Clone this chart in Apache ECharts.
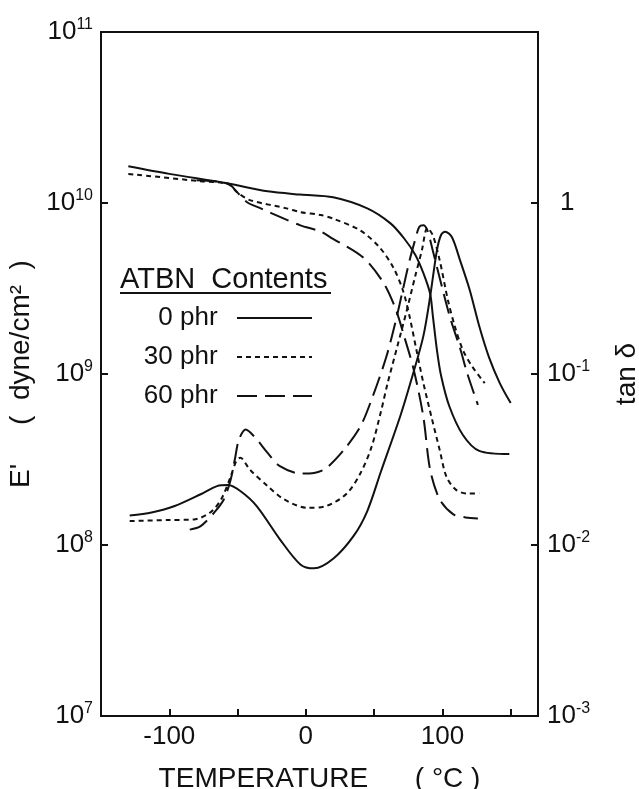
<!DOCTYPE html>
<html>
<head>
<meta charset="utf-8">
<script src="https://cdn.jsdelivr.net/npm/echarts@6/dist/echarts.min.js"></script>
<style>
  html, body { margin: 0; padding: 0; background: #fff; }
  #chart { width: 639px; height: 789px; }
</style>
</head>
<body>
<div id="chart"></div>
<script>
// 数据：温度 (°C) 与 E' (dyne/cm2)、tan δ
var seriesNames = ['0 phr', '30 phr', '60 phr'];

var tempE0 = [-130, -100, -57, -28, -4, 20, 45, 62, 72, 80, 86, 91, 93, 96, 99, 105, 115, 127, 149];
var modE0 = [1.64e10, 1.48e10, 1.30e10, 1.17e10, 1.12e10, 1.08e10, 9.3e9, 7.6e9, 6.2e9, 5.0e9, 3.9e9, 2.95e9, 2.19e9, 1.38e9, 9.8e8, 6.5e8, 4.4e8, 3.55e8, 3.4e8];

var tempE30 = [-130, -77, -57, -50, -41, -14, -4, 11, 20, 40, 54, 64, 71, 76, 81, 86, 92, 98, 103, 110, 118, 127];
var modE30 = [1.48e10, 1.34e10, 1.29e10, 1.15e10, 1.04e10, 9.3e9, 8.85e9, 8.5e9, 8.1e9, 6.9e9, 5.5e9, 4.2e9, 3.1e9, 2.16e9, 1.38e9, 8.9e8, 5.6e8, 3.6e8, 2.5e8, 2.1e8, 2.0e8, 2.0e8];

var tempE60 = [-80, -57, -50, -43, -33, -16, -4, 11, 18, 42, 57, 66, 72, 79, 86, 91, 98, 108, 117, 126];
var modE60 = [1.36e10, 1.30e10, 1.15e10, 1.01e10, 9.3e9, 8.1e9, 7.4e9, 6.8e9, 6.3e9, 4.8e9, 3.4e9, 2.37e9, 1.66e9, 1.06e9, 5.65e8, 2.76e8, 1.85e8, 1.51e8, 1.45e8, 1.43e8];

var tempT0 = [-129, -113, -96, -77, -65, -57, -48, -36, -19, -4, 6, 20, 35, 45, 55, 69, 77, 86, 91, 96, 99, 102, 107, 113, 120, 127, 134, 142, 150];
var tanT0 = [0.0149, 0.0155, 0.0169, 0.0198, 0.0221, 0.0224, 0.0207, 0.0169, 0.0108, 0.0077, 0.0073, 0.0083, 0.0113, 0.0158, 0.0269, 0.0562, 0.0912, 0.166, 0.283, 0.53, 0.65, 0.68, 0.63, 0.46, 0.31, 0.19, 0.126, 0.0885, 0.0676];

var tempT30 = [-129, -100, -82, -70, -62, -55, -51, -48, -41, -28, -16, 1, 15, 30, 40, 48, 55, 60, 67, 74, 80, 85, 89, 93, 98, 104, 109, 115, 122, 131];
var tanT30 = [0.0138, 0.0140, 0.0141, 0.0155, 0.0185, 0.0252, 0.0309, 0.0324, 0.0276, 0.0221, 0.0185, 0.0165, 0.0169, 0.0200, 0.0263, 0.0372, 0.0603, 0.0891, 0.145, 0.237, 0.371, 0.53, 0.716, 0.646, 0.463, 0.271, 0.191, 0.138, 0.110, 0.0885];

var tempT60 = [-85, -77, -67, -60, -55, -52, -49, -44, -38, -28, -19, -4, 6, 15, 28, 40, 49, 59, 66, 71, 76, 80, 83, 86, 89, 93, 100, 106, 113, 118, 126];
var tanT60 = [0.0123, 0.0129, 0.0155, 0.0185, 0.0242, 0.0316, 0.0413, 0.0473, 0.0433, 0.0346, 0.0289, 0.0262, 0.0264, 0.0282, 0.0361, 0.0494, 0.0740, 0.1265, 0.207, 0.310, 0.463, 0.607, 0.724, 0.741, 0.692, 0.525, 0.316, 0.209, 0.141, 0.102, 0.066];

var xTicks = [-100, 0, 100];

var ink = '#111';
var fontFam = '"Liberation Sans", Arial, sans-serif';
var dashes = ['solid', [5, 4], [20, 8]];

function makeLine(name, xs, ys, axisIndex, dash) {
    return {
        name: name,
        type: 'line',
        yAxisIndex: axisIndex,
        data: xs.map(function (t, i) { return [t, ys[i]]; }),
        symbol: 'none',
        showSymbol: false,
        smooth: 0.3,
        silent: true,
        lineStyle: { color: ink, width: 2, type: dash },
        itemStyle: { color: ink }
    };
}

var myChart = echarts.init(document.getElementById('chart'));

var supRich = {
    b: { fontSize: 26, fontFamily: fontFam, color: ink, lineHeight: 30 },
    s: { fontSize: 16, fontFamily: fontFam, color: ink, lineHeight: 16, verticalAlign: 'top' },
    one: { fontSize: 26, fontFamily: fontFam, color: ink, lineHeight: 30, padding: [0, 0, 0, 13] }
};

var option = {
    animation: false,
    grid: { left: 101, right: 101, top: 32, bottom: 73, show: true, borderColor: ink, borderWidth: 2, outerBoundsMode: 'none' },
    legend: {
        data: seriesNames,
        orient: 'vertical',
        align: 'right',
        right: 326,
        top: 305,
        padding: 0,
        itemWidth: 75,
        itemHeight: 14,
        itemGap: 13,
        selectedMode: false,
        itemStyle: { opacity: 0, borderWidth: 0 },
        formatter: function (n) { return n + '  '; },
        textStyle: { fontSize: 26, fontFamily: fontFam, color: ink }
    },
    graphic: [
        { type: 'text', left: 120, top: 265, style: { text: 'ATBN  Contents', font: '29px "Liberation Sans", Arial, sans-serif', fill: ink } },
        { type: 'line', shape: { x1: 120, y1: 293, x2: 331, y2: 293 }, style: { stroke: ink, lineWidth: 2 } }
    ],
    xAxis: {
        type: 'value',
        min: -150,
        max: 170,
        interval: 50,
        name: 'TEMPERATURE      ( °C )',
        nameLocation: 'middle',
        nameGap: 49,
        nameTextStyle: { fontSize: 28, fontFamily: fontFam, color: ink },
        axisLine: { onZero: false, lineStyle: { color: ink, width: 2 } },
        axisTick: { inside: true, length: 7, lineStyle: { color: ink, width: 2 } },
        axisLabel: {
            margin: 8,
            fontSize: 26,
            fontFamily: fontFam,
            color: ink,
            formatter: function (v) { return xTicks.indexOf(v) >= 0 ? (v < 0 ? '-' + Math.abs(v) : String(v)) : ''; }
        },
        splitLine: { show: false }
    },
    yAxis: [
        {
            type: 'log',
            logBase: 10,
            min: 1e7,
            max: 1e11,
            position: 'left',
            name: "E'     (  dyne/cm²  )",
            nameLocation: 'middle',
            nameGap: 55,
            nameRotate: 90,
            nameTextStyle: { fontSize: 28, fontFamily: fontFam, color: ink },
            axisLine: { show: true, onZero: false, lineStyle: { color: ink, width: 2 } },
            axisTick: { show: true, inside: true, length: 7, lineStyle: { color: ink, width: 2 } },
            axisLabel: {
                margin: 8,
                formatter: function (v) {
                    var e = Math.round(Math.log10(v));
                    return '{b|10}{s|' + e + '}';
                },
                rich: supRich
            },
            splitLine: { show: false }
        },
        {
            type: 'log',
            logBase: 10,
            min: 1e-3,
            max: 10,
            position: 'right',
            name: 'tan δ',
            nameLocation: 'middle',
            nameGap: 75,
            nameRotate: 90,
            nameTextStyle: { fontSize: 28, fontFamily: fontFam, color: ink },
            axisLine: { show: true, onZero: false, lineStyle: { color: ink, width: 2 } },
            axisTick: { show: true, inside: true, length: 7, lineStyle: { color: ink, width: 2 } },
            axisLabel: {
                margin: 9,
                formatter: function (v) {
                    var e = Math.round(Math.log10(v));
                    if (e === 1) return '';
                    if (e === 0) return '{one|1}';
                    return '{b|10}{s|' + e + '}';
                },
                rich: supRich
            },
            splitLine: { show: false }
        }
    ],
    series: [
        makeLine(seriesNames[0], tempE0, modE0, 0, dashes[0]),
        makeLine(seriesNames[1], tempE30, modE30, 0, dashes[1]),
        makeLine(seriesNames[2], tempE60, modE60, 0, dashes[2]),
        makeLine(seriesNames[0], tempT0, tanT0, 1, dashes[0]),
        makeLine(seriesNames[1], tempT30, tanT30, 1, dashes[1]),
        makeLine(seriesNames[2], tempT60, tanT60, 1, dashes[2])
    ]
};

myChart.setOption(option);
</script>
</body>
</html>
